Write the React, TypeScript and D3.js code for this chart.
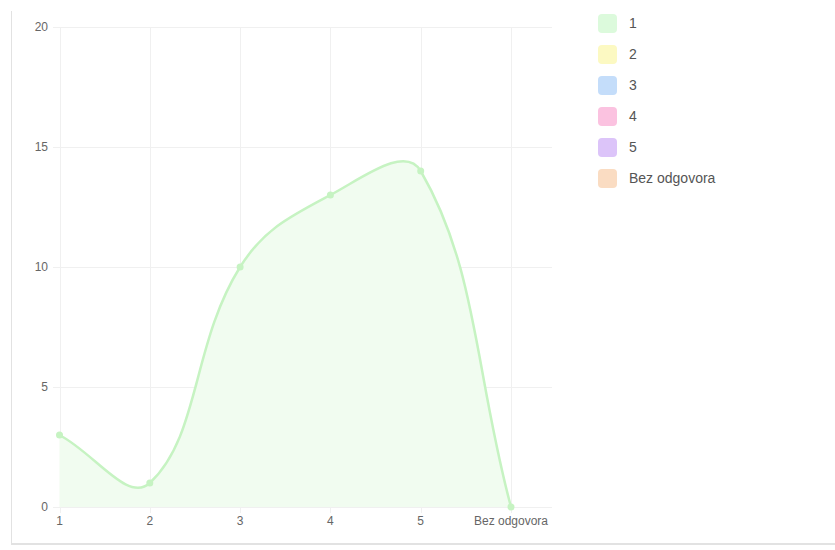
import React from "react";
import * as d3 from "d3";

const categories = ["1", "2", "3", "4", "5", "Bez odgovora"];
const values = [3, 1, 10, 13, 14, 0];
const yTicks = [0, 5, 10, 15, 20];
const legendLabels = ["1", "2", "3", "4", "5", "Bez odgovora"];
const legendColors = ["#dcfadc", "#fcf9c2", "#c4ddfa", "#fbc2e0", "#dcc4f9", "#fadcc2"];

const W = 835;
const H = 550;
const lineColor = "#c6f3c2";
const fillColor = "#f1fcf0";

function chartSpline(pts: [number, number][], tension: number, top: number, bottom: number) {
  const n = pts.length;
  const cps: { prev: [number, number]; next: [number, number] }[] = [];
  for (let i = 0; i < n; i++) {
    const prev = pts[Math.max(0, i - 1)];
    const cur = pts[i];
    const next = pts[Math.min(n - 1, i + 1)];
    const d01 = Math.hypot(cur[0] - prev[0], cur[1] - prev[1]);
    const d12 = Math.hypot(next[0] - cur[0], next[1] - cur[1]);
    let s01 = d01 / (d01 + d12);
    let s12 = d12 / (d01 + d12);
    if (isNaN(s01)) s01 = 0;
    if (isNaN(s12)) s12 = 0;
    const fa = tension * s01;
    const fb = tension * s12;
    const clampY = (y: number) => Math.max(top, Math.min(bottom, y));
    cps.push({
      prev: [cur[0] - fa * (next[0] - prev[0]), clampY(cur[1] - fa * (next[1] - prev[1]))],
      next: [cur[0] + fb * (next[0] - prev[0]), clampY(cur[1] + fb * (next[1] - prev[1]))],
    });
  }
  const p = d3.path();
  p.moveTo(pts[0][0], pts[0][1]);
  for (let i = 1; i < n; i++) {
    p.bezierCurveTo(cps[i - 1].next[0], cps[i - 1].next[1], cps[i].prev[0], cps[i].prev[1], pts[i][0], pts[i][1]);
  }
  return p.toString();
}

export default function App() {
  const x = d3.scalePoint<string>().domain(categories).range([59.5, 511]);
  const y = d3.scaleLinear().domain([0, 20]).range([507, 27]);
  const pts: [number, number][] = categories.map((c, i) => [x(c) as number, y(values[i])]);
  const linePath = chartSpline(pts, 0.4, 27, 507);
  const areaPath = linePath + `L${pts[pts.length - 1][0]},${y(0)}L${pts[0][0]},${y(0)}Z`;
  const gridRight = 552;

  return (
    <svg width={W} height={H} style={{ position: "absolute", left: 0, top: 0 }} fontFamily="'Liberation Sans', Arial, sans-serif">
      <rect x={0} y={0} width={W} height={H} fill="#fff" />
      <line x1={11.5} x2={11.5} y1={11} y2={544} stroke="#e2e2e2" strokeWidth={1} />
      <line x1={11} x2={835} y1={544} y2={544} stroke="#e2e2e2" strokeWidth={2} />
      {yTicks.map((t) => (
        <g key={t}>
          <line x1={53} x2={gridRight} y1={Math.round(y(t)) + 0.5} y2={Math.round(y(t)) + 0.5} stroke="#f0f0f0" />
          <text x={48} y={y(t)} dy="0.35em" textAnchor="end" fontSize={12} fill="#666">{t}</text>
        </g>
      ))}
      {categories.map((c) => (
        <g key={c}>
          <line x1={Math.round(x(c) as number) + 0.5} x2={Math.round(x(c) as number) + 0.5} y1={27} y2={513} stroke="#f0f0f0" />
          <text x={x(c) as number} y={525} textAnchor="middle" fontSize={12} fill="#666">{c}</text>
        </g>
      ))}
      <path d={areaPath} fill={fillColor} stroke="none" />
      <path d={linePath} fill="none" stroke={lineColor} strokeWidth={2.5} />
      {pts.map((p, i) => (
        <circle key={i} cx={p[0]} cy={p[1]} r={3.5} fill={lineColor} />
      ))}
      {legendLabels.map((l, i) => (
        <g key={l} transform={`translate(598, ${14 + i * 31})`}>
          <rect x={0} y={0} width={19} height={19} rx={4} fill={legendColors[i]} />
          <text x={31} y={9.5} dy="0.35em" fontSize={14} fill="#555">{l}</text>
        </g>
      ))}
    </svg>
  );
}
